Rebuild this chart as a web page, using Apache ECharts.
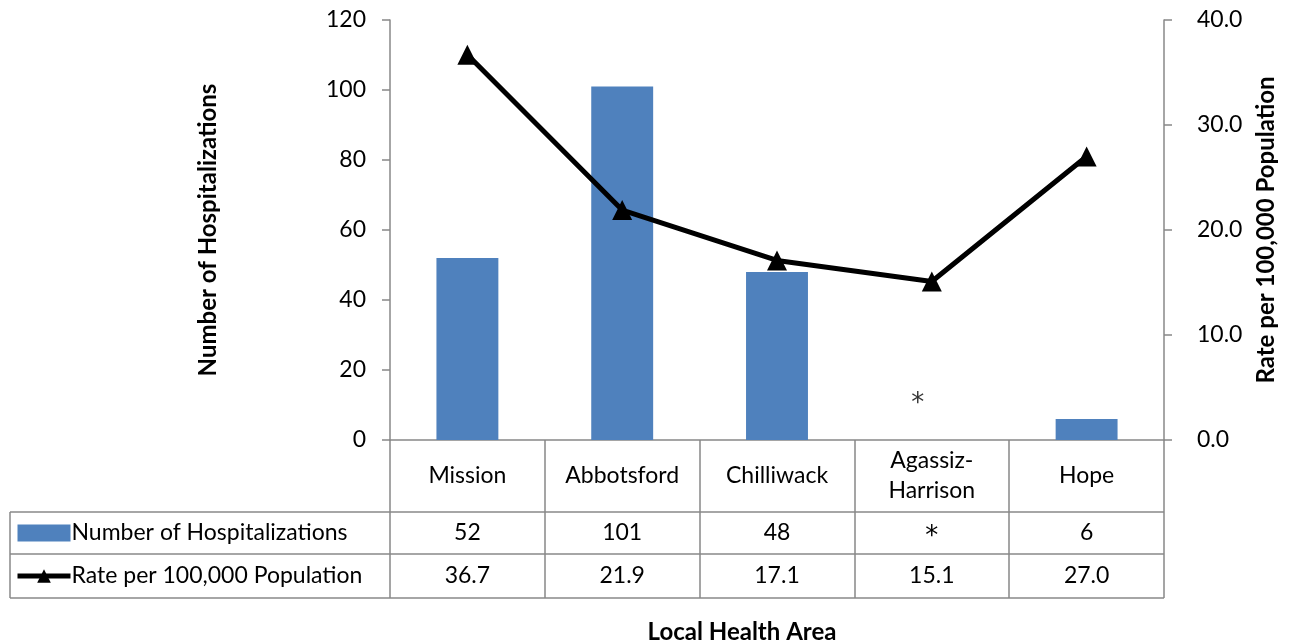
<!DOCTYPE html>
<html><head><meta charset="utf-8">
<script src="https://cdn.jsdelivr.net/npm/echarts@6/dist/echarts.min.js"></script>
<style>html,body{margin:0;padding:0;background:#fff}#c{width:1289px;height:644px}</style>
</head><body><div id="c"></div>
<script>
const categories = ['Mission', 'Abbotsford', 'Chilliwack', 'Agassiz-\nHarrison', 'Hope'];
const hospitalizations = [52, 101, 48, null, 6];
const hospLabels = ['52', '101', '48', '*', '6'];
const rates = [36.7, 21.9, 17.1, 15.1, 27.0];
const suppressedMark = [[3, 11.4]];
const leftTicks = { min: 0, max: 120, interval: 20 };
const rightTicks = { min: 0, max: 40, interval: 10 };

const FONT = 'Lato';
const FS = 23;
const FSB = 24;
const GRAY = '#888888';
const GL = 390, GR = 1164, GT = 20, GB = 440;

const chart = echarts.init(document.getElementById('c'));
const option = {
  animation: false,
  textStyle: { fontFamily: FONT, color: '#000' },
  grid: { left: GL, right: 1289 - GR, top: GT, bottom: 644 - GB, containLabel: false },
  legend: {
    orient: 'vertical', left: 15, top: 519, padding: 0,
    itemWidth: 53, itemHeight: 17, itemGap: 15,
    textStyle: { fontFamily: FONT, fontSize: FS, color: '#000', padding: [0, 0, 0, -4], lineHeight: 28 },
    data: [
      { name: 'Number of Hospitalizations', icon: 'rect' },
      { name: 'Rate per 100,000 Population', lineStyle: { width: 5, color: '#000' } }
    ]
  },
  xAxis: {
    type: 'category', data: categories,
    axisLine: { show: true, lineStyle: { color: GRAY, width: 1.5 } },
    axisTick: { show: true, interval: 0, length: 158, lineStyle: { color: GRAY, width: 1.5 } },
    axisLabel: { interval: 0, margin: 36, verticalAlign: 'middle', lineHeight: 30, fontSize: FS, color: '#000', fontFamily: FONT }
  },
  yAxis: [
    {
      type: 'value', min: leftTicks.min, max: leftTicks.max, interval: leftTicks.interval,
      name: 'Number of Hospitalizations', nameLocation: 'middle', nameRotate: 90, nameGap: 170,
      nameTextStyle: { fontSize: FSB, fontWeight: 'bold', color: '#000', fontFamily: FONT },
      axisLine: { show: true, lineStyle: { color: GRAY, width: 1.5 } },
      axisTick: { show: true, length: 8, lineStyle: { color: GRAY, width: 1.5 } },
      axisLabel: { margin: 24, fontSize: FS, color: '#000', fontFamily: FONT },
      splitLine: { show: false }
    },
    {
      type: 'value', min: rightTicks.min, max: rightTicks.max, interval: rightTicks.interval,
      position: 'right',
      name: 'Rate per 100,000 Population', nameLocation: 'middle', nameRotate: 90, nameGap: 90,
      nameTextStyle: { fontSize: FSB, fontWeight: 'bold', color: '#000', fontFamily: FONT },
      axisLine: { show: true, lineStyle: { color: GRAY, width: 1.5 } },
      axisTick: { show: true, length: 8, lineStyle: { color: GRAY, width: 1.5 } },
      axisLabel: { margin: 33, fontSize: FS, color: '#000', fontFamily: FONT, formatter: v => v.toFixed(1) },
      splitLine: { show: false }
    }
  ],
  series: [
    {
      name: 'Number of Hospitalizations', type: 'bar', yAxisIndex: 0,
      data: hospitalizations, barWidth: '40%',
      itemStyle: { color: '#4F81BD' }
    },
    {
      name: 'Rate per 100,000 Population', type: 'line', yAxisIndex: 1,
      data: rates, symbol: 'triangle', symbolSize: 20,
      lineStyle: { color: '#000', width: 5 }, itemStyle: { color: '#000' }, z: 5
    },
    {
      name: 'suppressed', type: 'scatter', yAxisIndex: 0, data: suppressedMark,
      symbolSize: 0, silent: true,
      label: { show: true, position: 'inside', formatter: '*', fontSize: 26, color: '#000', fontFamily: 'DejaVu Sans', offset: [-14, 4] }
    }
  ]
};
chart.setOption(option);

// data table
const row1 = 512, row2 = 554, rowEnd = 598, tableLeft = 10;
const g = [];
const line = (x1, y1, x2, y2) => g.push({ type: 'line', shape: { x1, y1, x2, y2 }, style: { stroke: GRAY, lineWidth: 1.5 } });
line(tableLeft, row1, GR, row1);
line(tableLeft, row2, GR, row2);
line(tableLeft, rowEnd, GR, rowEnd);
line(tableLeft, row1, tableLeft, rowEnd);
categories.forEach((c, i) => {
  const x = chart.convertToPixel({ xAxisIndex: 0 }, i);
  const isStar = hospLabels[i] === '*';
  g.push({ type: 'text', x, y: (row1 + row2) / 2 + (isStar ? 4 : 0), style: { text: hospLabels[i], fontSize: isStar ? 26 : FS, fontFamily: isStar ? 'DejaVu Sans' : FONT, fill: '#000', align: 'center', verticalAlign: 'middle' } });
  g.push({ type: 'text', x, y: (row2 + rowEnd) / 2, style: { text: rates[i].toFixed(1), fontSize: FS, fontFamily: FONT, fill: '#000', align: 'center', verticalAlign: 'middle' } });
});
g.push({ type: 'text', x: 742, y: 632, style: { text: 'Local Health Area', fontSize: FSB, fontWeight: 'bold', fontFamily: FONT, fill: '#000', align: 'center', verticalAlign: 'middle' } });
chart.setOption({ graphic: g });
</script></body></html>
